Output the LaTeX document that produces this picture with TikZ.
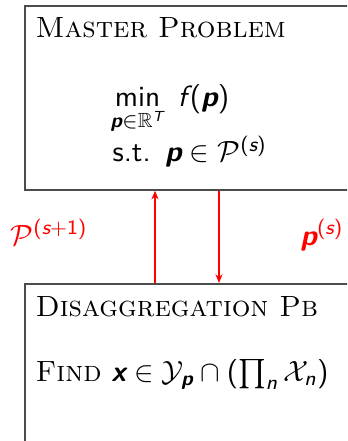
\documentclass[tikz,border=0pt]{standalone}
\usepackage{amsmath,amssymb}
\usetikzlibrary{arrows.meta}

% sans serif math, the way slides set it
\DeclareSymbolFont{operators}{TU}{lmss}{m}{n}
\SetSymbolFont{operators}{bold}{TU}{lmss}{bx}{n}
\DeclareSymbolFont{sfletters}{TU}{lmss}{m}{sl}
\SetSymbolFont{sfletters}{bold}{TU}{lmss}{bx}{sl}
\makeatletter
\def\sfletter#1{\DeclareMathSymbol{#1}{\mathalpha}{sfletters}{`#1}}
\@tfor\ch:=fnpsxT\do{\expandafter\sfletter\ch}
\makeatother

\newcommand{\vp}{\boldsymbol{p}}

\tikzset{
  box/.style={draw=black!70, line width=0.6pt, anchor=north west, inner sep=0pt},
  txt/.style={anchor=base west, inner sep=0pt},
  lbl/.style={txt, text=red},
  flow/.style={red, line width=0.4pt, -{Stealth[length=3pt,width=2.4pt]}},
}

\begin{document}
\begin{tikzpicture}[x=0.3415pt,y=-0.3415pt]
\useasboundingbox (0,0) rectangle (347,441);
\clip (0,0) rectangle (347,441);

%boxes
\node[box, minimum width=130pt, minimum height=62.8pt] (master) at (24,5) {};
\node[box, minimum width=130pt, minimum height=70pt] (disagg) at (24,283) {};

%master problem
\node[txt] (mastertitle) at (35,38) {\textsc{Master Problem}};
\node[txt] (objective) at (110,107) {$\displaystyle\min_{\vp\in\mathbb{R}^T}\; f\mkern2mu(\vp)$};
\node[txt] (constraint) at (112,162) {$\textsf{s.t.}\enspace \vp\in\mathcal{P}^{(s)}$};

%disaggregation
\node[txt] (disaggtitle) at (35,316) {\textsc{Disaggregation Pb}};
\node[txt] (findtask) at (35,381) {\textsc{Find} $\boldsymbol{x}\in\mathcal{Y}_{\vp}\cap(\prod_n\mathcal{X}_n)$};

%exchange
\coordinate (uparr) at (155,0);
\coordinate (downarr) at (219,0);
\draw[flow] (disagg.north -| uparr) -- (master.south -| uparr);
\draw[flow] (master.south -| downarr) -- (disagg.north -| downarr);
\node[lbl] (cutlabel) at (10,245) {$\mathcal{P}^{(s+1)}$};
\node[lbl] (proplabel) at (300,245) {$\vp^{(s)}$};

\end{tikzpicture}
\end{document}
